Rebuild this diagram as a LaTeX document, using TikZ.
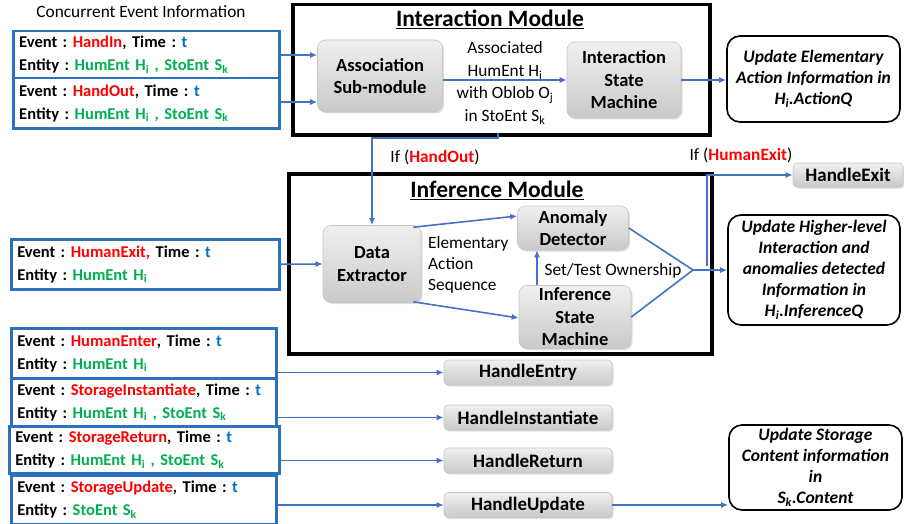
\documentclass[tikz,border=0pt]{standalone}
\usepackage{fontspec}
\setmainfont{Carlito}
\usetikzlibrary{arrows.meta,shadows}
\definecolor{arrowblue}{HTML}{4472C4}
\definecolor{boxblue}{HTML}{2A72BE}
\definecolor{evred}{HTML}{FF0000}
\definecolor{evgreen}{HTML}{00B050}
\definecolor{evblue}{HTML}{0070C0}
\newcommand{\evR}[1]{\textcolor{evred}{#1}}
\newcommand{\evG}[1]{\textcolor{evgreen}{#1}}
\newcommand{\evB}[1]{\textcolor{evblue}{#1}}
\newcommand{\sbs}[1]{\textsubscript{#1}}
\newcommand{\cln}{\ :\ }
\frenchspacing
\begin{document}
\frenchspacing
\begin{tikzpicture}[x=1pt,y=-1pt,
  evbox/.style={draw=boxblue, line width=2.5pt, anchor=north west, align=left, inner xsep=6pt, inner ysep=0pt,
    font=\bfseries\fontsize{16.5}{23}\selectfont},
  graybox/.style={rounded corners=8pt, top color=gray!12, bottom color=gray!42, draw=gray!45, line width=0.6pt,
    drop shadow={opacity=0.25, shadow xshift=1.5pt, shadow yshift=-1.5pt}, align=center,
    font=\bfseries\fontsize{18.5}{22.5}\selectfont, inner sep=0pt},
  handlebox/.style={graybox, rounded corners=4pt, minimum width=168pt, minimum height=25pt, font=\bfseries\fontsize{19}{20}\selectfont},
  modbox/.style={draw=black, line width=3.5pt, anchor=north west, inner sep=0pt},
  updbox/.style={draw=black, line width=1.6pt, rounded corners=13pt, align=center, inner sep=0pt,
    font=\bfseries\itshape\fontsize{17.5}{21}\selectfont},
  arr/.style={draw=arrowblue, line width=1.6pt, -{Latex[length=7pt,width=6pt]}},
  bline/.style={draw=arrowblue, line width=1.6pt},
  lbl/.style={font=\fontsize{17.3}{22.5}\selectfont, inner sep=0pt},
  title/.style={font=\bfseries\fontsize{23.5}{25}\selectfont, inner sep=0pt}
]
\useasboundingbox (0,0) rectangle (904,524);

% heading
\node[lbl] (head) at (141,12) {Concurrent Event Information};

% module frames
\node[modbox, minimum width=417pt, minimum height=130pt] (imod) at (291,3) {};
\node[title] (imodt) at (490,19) {\underline{Interaction Module}};
\node[modbox, minimum width=423pt, minimum height=180pt] (fmod) at (287,172) {};
\node[title] (fmodt) at (497,190) {\underline{Inference Module}};

% event boxes
\node[evbox, minimum width=266pt, minimum height=47pt, text width=254pt] (e1) at (12,30)
  {Event\cln\evR{HandIn}, Time\cln\evB{t}\\Entity\cln\evG{HumEnt H\sbs{i} , StoEnt S\sbs{k}}};
\node[evbox, minimum width=266pt, minimum height=50pt, text width=254pt] (e2) at (12,77)
  {Event\cln\evR{HandOut}, Time\cln\evB{t}\\Entity\cln\evG{HumEnt H\sbs{i} , StoEnt S\sbs{k}}};
\node[evbox, minimum width=268pt, minimum height=50pt, text width=256pt] (ex) at (10,238)
  {Event\cln\evR{HumanExit,} Time\cln\evB{t}\\Entity\cln\evG{HumEnt H\sbs{i}}};
\node[evbox, minimum width=265pt, minimum height=50pt, text width=253pt] (en) at (10,327)
  {Event\cln\evR{HumanEnter}, Time\cln\evB{t}\\Entity\cln\evG{HumEnt H\sbs{i}}};
\node[evbox, minimum width=265pt, minimum height=48pt, text width=253pt] (ei) at (10,377)
  {Event\cln\evR{StorageInstantiate}, Time\cln\evB{t}\\Entity\cln\evG{HumEnt H\sbs{i} , StoEnt S\sbs{k}}};
\node[evbox, minimum width=270pt, minimum height=47pt, text width=258pt] (er) at (8,425)
  {Event\cln\evR{StorageReturn}, Time\cln\evB{t}\\Entity\cln\evG{HumEnt H\sbs{i} , StoEnt S\sbs{k}}};
\node[evbox, minimum width=265pt, minimum height=49pt, text width=253pt] (eu) at (10,474)
  {Event\cln\evR{StorageUpdate}, Time\cln\evB{t}\\Entity\cln\evG{StoEnt S\sbs{k}}};

% interaction module content
\node[graybox, minimum width=125pt, minimum height=72pt] (assoc) at (380,76) {Association\\Sub-module};
\node[graybox, minimum width=114pt, minimum height=76pt] (ism) at (624,80) {Interaction\\State\\Machine};
\node[lbl, align=center] (assoclbl) at (505,83) {Associated\\HumEnt H\sbs{i}\\with Oblob O\sbs{j}\\in StoEnt S\sbs{k}};

% inference module content
\node[graybox, minimum width=98pt, minimum height=77pt] (de) at (372,264) {Data\\Extractor};
\node[graybox, minimum width=111pt, minimum height=44pt] (ad) at (573,228) {Anomaly\\Detector};
\node[graybox, minimum width=112pt, minimum height=63pt] (ifsm) at (575,317) {Inference\\State\\Machine};
\node[lbl, align=left, anchor=west, font=\fontsize{17.3}{21}\selectfont] (easlbl) at (428,265) {Elementary\\Action\\Sequence};
\node[lbl] (stlbl) at (613,271) {Set/Test Ownership};

% update boxes
\node[updbox, minimum width=173pt, minimum height=86pt] (upd1) at (813.5,79) {Update Elementary\\Action Information in\\H\sbs{i}.ActionQ};
\node[updbox, minimum width=172pt, minimum height=110pt] (upd2) at (814,270) {Update Higher-level\\Interaction and\\anomalies detected\\Information in\\H\sbs{i}.InferenceQ};
\node[updbox, minimum width=173pt, minimum height=85pt] (upd3) at (815.5,467.5) {Update Storage\\Content information\\in\\S\sbs{k}.Content};

% handle boxes
\node[handlebox, minimum width=110pt, minimum height=24pt] (hexit) at (848,175) {HandleExit};
\node[handlebox] (hentry) at (528,372.5) {HandleEntry};
\node[handlebox] (hinst) at (528,417.5) {HandleInstantiate};
\node[handlebox] (hret) at (528,460.5) {HandleReturn};
\node[handlebox] (hupd) at (528,505) {HandleUpdate};

% labels
\node[lbl] (iflbl1) at (435,157) {If (\textbf{\evR{HandOut}})};
\node[lbl] (iflbl2) at (741,155) {If (\textbf{\evR{HumanExit}})};

% connectors
\draw[arr] (e1.east |- 0,55) -- (assoc.west |- 0,55);
\draw[arr] (e2.east |- 0,102) -- (assoc.west |- 0,102);
\draw[arr] (assoc.east |- ism.west) -- (ism.west);
\draw[arr] (ism.east) -- (upd1.west |- ism.east);

\coordinate (ho) at (498,133);
\draw[arr] (ho) -- ++(0,5) -| (de.north);

\draw[arr] (ex.east) -- (de.west);
\draw[arr] (de.north east) ++(-8,2) -- (ad.west |- 0,216);
\draw[arr] (de.south east) ++(-8,-1) -- (ifsm.west |- 0,318);
\draw[arr] (ifsm.north -| 537,0) -- (ad.south -| 537,0);

\coordinate (cv) at (693,270);
\draw[bline] (ad.east) -- (cv) -- (ifsm.east);
\draw[arr] (cv) -- (upd2.west);

\coordinate (hxs) at (707,266);
\draw[arr] (hxs) |- (hexit.west);

\draw[arr] (hentry.west -| en.east) -- (hentry.west);
\draw[arr] (hinst.west -| ei.east) -- (hinst.west);
\draw[arr] (hret.west -| er.east) -- (hret.west);
\draw[arr] (hupd.west -| eu.east) -- (hupd.west);
\draw[arr] (hupd.east) -- (upd3.west |- hupd.east);
\end{tikzpicture}
\end{document}
